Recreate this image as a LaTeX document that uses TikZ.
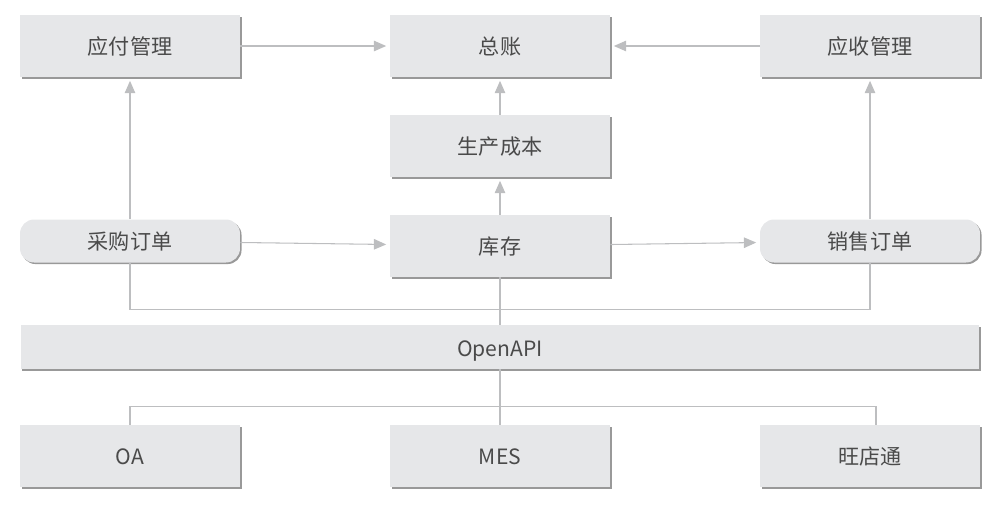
\documentclass[tikz,border=0pt]{standalone}
\usepackage{fontspec}
\setmainfont{Noto Sans CJK SC}
\usepackage{tikz}
\usetikzlibrary{arrows.meta,shadows,calc}
\definecolor{boxfill}{HTML}{E6E7E9}
\definecolor{linegray}{HTML}{BDBEC0}
\definecolor{txtgray}{HTML}{4A4A4A}

\begin{document}
\begin{tikzpicture}[x=0.02cm,y=-0.02cm,
    box/.style={fill=boxfill,draw=none,minimum width=4.4cm,minimum height=1.24cm,inner sep=0pt,
      text=txtgray,font=\fontsize{12pt}{14pt}\selectfont,text height=1em,text depth=0.04em,
      drop shadow={shadow xshift=0.9pt,shadow yshift=-0.9pt,fill=black!40,opacity=1}},
    rbox/.style={box,rounded corners=8pt,minimum height=0.86cm},
    bus/.style={box,minimum width=19.18cm,minimum height=0.88cm,text height=1.1em},
    link/.style={draw=linegray,line width=0.6pt},
    arr/.style={link,-{Triangle[length=7pt,width=6pt,fill=linegray]},shorten >=2pt}]
  \useasboundingbox (0,0) rectangle (999,504);

  \node[box] (yfgl) at (130,46) {应付管理};
  \node[box] (zz)   at (500,46) {总账};
  \node[box] (ysgl) at (870,46) {应收管理};
  \node[box] (sccb) at (500,146) {生产成本};
  \node[rbox] (cgdd) at (130,241) {采购订单};
  \node[box] (kc)   at (500,246) {库存};
  \node[rbox] (xsdd) at (870,241) {销售订单};
  \node[bus] (api)  at (500,347) {OpenAPI};
  \node[box] (oa)   at (130,456) {OA};
  \node[box] (mes)  at (500,456) {MES};
  \node[box] (wdt)  at (870,456) {旺店通};
  \coordinate (wdtin) at ($(wdt.north)+(6,0)$);

  \draw[arr] (yfgl) -- (zz);
  \draw[arr] (ysgl) -- (zz);
  \draw[arr] (sccb) -- (zz);
  \draw[arr] (kc) -- (sccb);
  \draw[arr] (cgdd) -- (yfgl);
  \draw[arr] (xsdd) -- (ysgl);
  \draw[arr] (cgdd) -- (kc);
  \draw[arr] (kc) -- (xsdd);
  \draw[link] (cgdd.south) -- ++(0,47) -| (xsdd.south);
  \draw[link] (kc.south) -- (api.north);
  \draw[link] (api.south) -- (mes.north);
  \draw[link] (oa.north) -- ++(0,-18) -| (wdtin);
\end{tikzpicture}
\end{document}
